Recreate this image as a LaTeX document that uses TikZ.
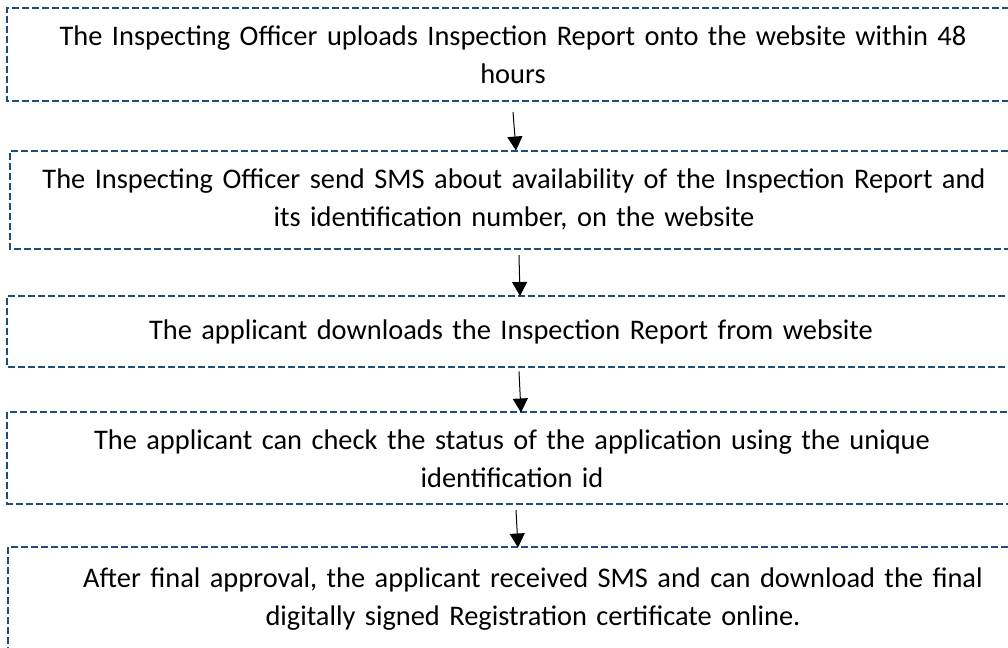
\documentclass[tikz,border=0pt]{standalone}
\usepackage{fontspec}
\setmainfont{Carlito}
\usepackage{xcolor}
\usetikzlibrary{arrows.meta}
\definecolor{boxblue}{RGB}{31,78,121}
\tikzset{stepbox/.style={anchor=west, align=center, inner xsep=0pt, outer sep=0pt,
        font=\fontsize{14.2}{19}\selectfont}}
\tikzset{dashline/.style={draw=boxblue, line width=1pt, dash pattern=on 3.5pt off 1.5pt}}
\tikzset{flow/.style={-{Triangle[length=7pt,width=7.5pt]}, line width=0.5pt}}

\begin{document}
\begin{tikzpicture}[x=0.5pt,y=0.5pt]
    \useasboundingbox (0,0) rectangle (1008,648);

    \node[stepbox, text width=506pt, minimum height=46.5pt] (upload) at (7,593.5)
    {The Inspecting Officer uploads Inspection Report onto the website within 48\\hours};
    \node[stepbox, text width=504pt, minimum height=49.25pt] (sms) at (10,448.2)
    {The Inspecting Officer send SMS about availability of the Inspection Report and\\its identification number, on the website};
    \node[stepbox, text width=504pt, minimum height=35.75pt] (download) at (7,316.25)
    {The applicant downloads the Inspection Report from website};
    \node[stepbox, text width=505pt, minimum height=45.75pt] (status) at (7,189.75)
    {The applicant can check the status of the application using the unique\\identification id};
    \node[stepbox, text width=525pt, minimum height=51.25pt] (certificate) at (8,49.25)
    {After final approval, the applicant received SMS and can download the final\\digitally signed Registration certificate online.};

    % boxes run past the right edge of the page
    \foreach \n in {upload,sms,download,status,certificate}
        \draw[dashline] (\n.north east) -| (\n.south west) -- (\n.south east);

    \draw[flow] ([shift={(0,-11)}]upload.south) -- ([shift={(2,0)}]sms.north);
    \draw[flow] ([shift={(5,-6)}]sms.south) -- ([shift={(9,0)}]download.north);
    \draw[flow] ([shift={(8,-4)}]download.south) -- ([shift={(9,0)}]status.north);
    \draw[flow] ([shift={(4,-6)}]status.south) -- ([shift={(-15,0)}]certificate.north);
\end{tikzpicture}
\end{document}
